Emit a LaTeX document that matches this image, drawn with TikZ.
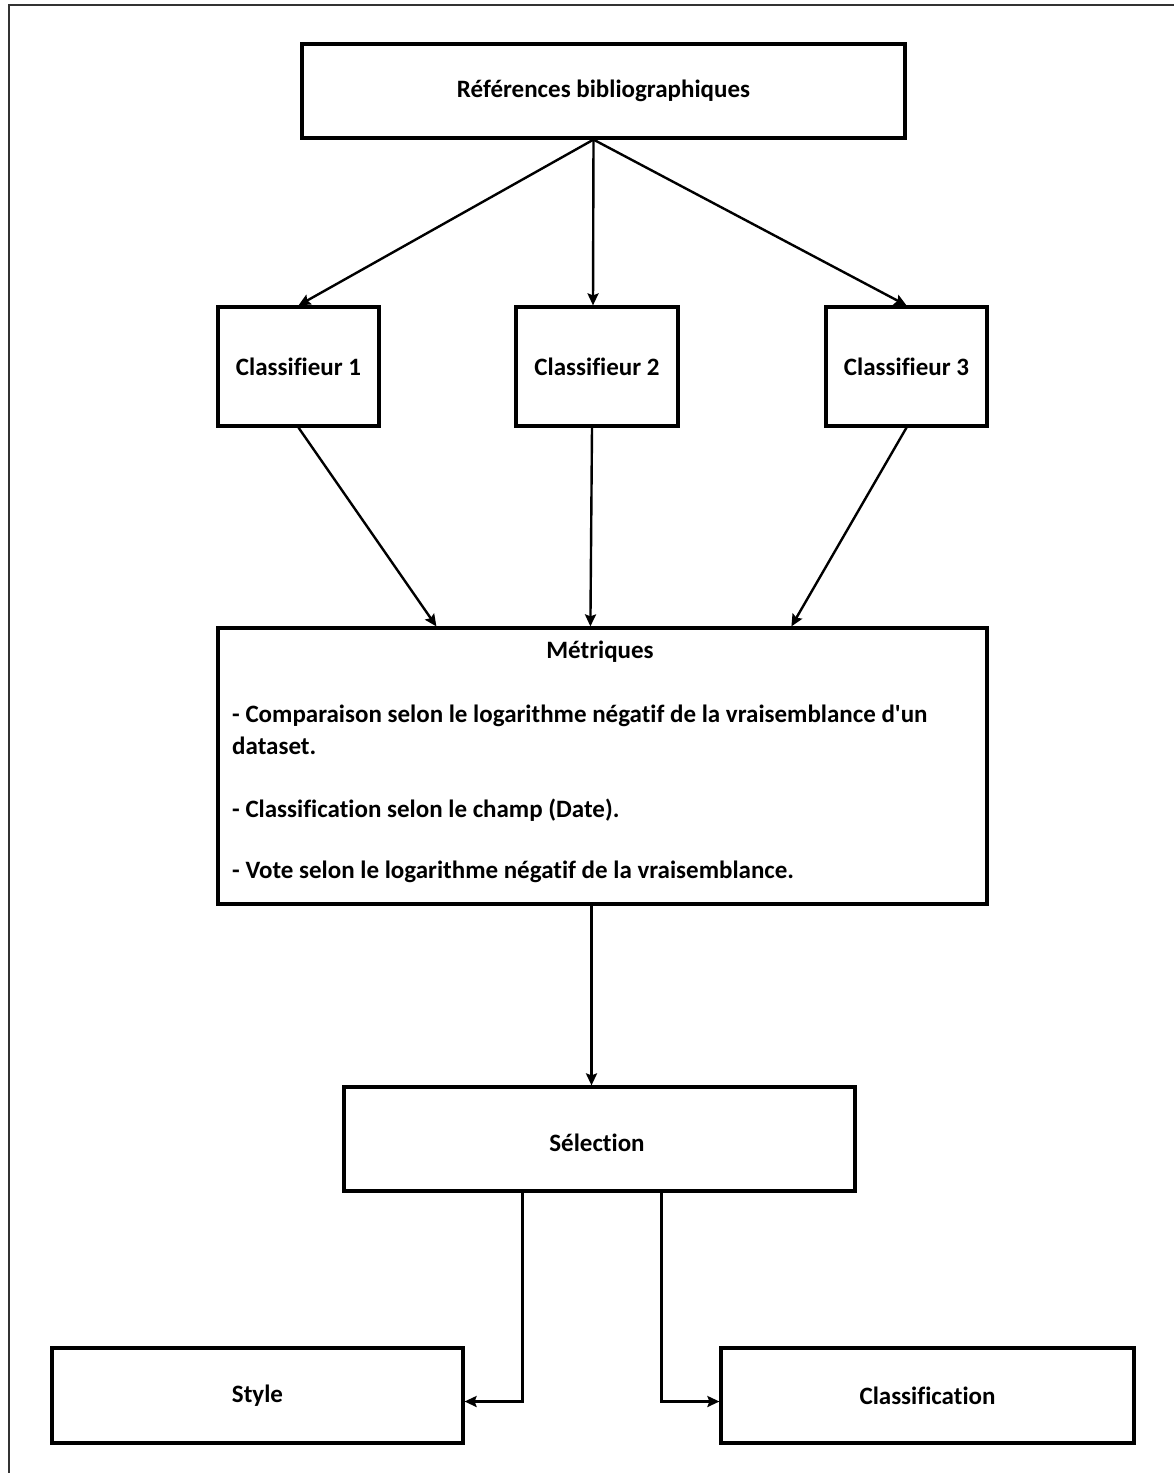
\documentclass[tikz,border=0pt]{standalone}
\usepackage{fontspec}
\setmainfont{Carlito}[Ligatures={TeXOff,NoCommon}]
\usetikzlibrary{arrows.meta,calc}
\begin{document}
\begin{tikzpicture}[x=1pt,y=-1pt,
  box/.style={draw,line width=3.2pt,rectangle,inner sep=0pt,font=\bfseries\fontsize{25}{30}\selectfont},
  txt/.style={inner sep=0pt,font=\bfseries\fontsize{25}{30}\selectfont},
  link/.style={line width=2.4pt,-{Stealth[length=12pt,width=11pt,inset=2pt]}},
  frame/.style={line width=1.5pt,draw=black!80}]
  \useasboundingbox (0,0) rectangle (1174,1473);
  % page frame
  \draw[frame] (9,1473) -- (9,5) -- (1174,5);
  % boxes
  \node[box,minimum width=603pt,minimum height=94pt] (ref) at (603.5,91) {Références bibliographiques};
  \node[box,minimum width=161pt,minimum height=119pt] (c1) at (298.5,366.5) {Classifieur 1};
  \node[box,minimum width=162pt,minimum height=119pt] (c2) at (597,366.5) {Classifieur 2};
  \node[box,minimum width=161pt,minimum height=119pt] (c3) at (906.5,366.5) {Classifieur 3};
  \node[box,minimum width=769pt,minimum height=276pt] (met) at (602.5,766) {};
  \node[txt] (mtitle) at (600,652) {Métriques};
  \node[txt,anchor=west] (m1) at (232,716) {- Comparaison selon le logarithme négatif de la vraisemblance d'un};
  \node[txt,anchor=west] (m2) at (232,746) {dataset.};
  \node[txt,anchor=west] (m3) at (232,810) {- Classification selon le champ (Date).};
  \node[txt,anchor=west] (m4) at (232,872) {- Vote selon le logarithme négatif de la vraisemblance.};
  \node[box,minimum width=511pt,minimum height=104pt] (sel) at (599.5,1139) {};
  \node[txt] (seltxt) at (597,1143) {Sélection};
  \node[box,minimum width=411pt,minimum height=95pt] (sty) at (257.5,1395.5) {Style};
  \node[box,minimum width=413pt,minimum height=95pt] (cla) at (927.5,1395.5) {Classification};
  % connectors
  \coordinate (rs) at ($(ref.south)+(-10,0)$);
  \draw[link] (rs) -- (c1.north);
  \draw[link] (rs) -- ($(c2.north)+(-4,0)$);
  \draw[link] (rs) -- (c3.north);
  \draw[link] (c1.south) -- ($(met.north west)+(220,0)$);
  \draw[link] ($(c2.south)+(-5,0)$) -- ($(met.north west)+(374,0)$);
  \draw[link] (c3.south) -- ($(met.north west)+(575,0)$);
  \draw[link] ($(met.south)+(-11,0)$) -- ($(sel.north)+(-8,0)$);
  \draw[link] ($(sel.south west)+(180,0)$) |- ($(sty.east)+(0,6)$);
  \draw[link] ($(sel.south west)+(319,0)$) |- ($(cla.west)+(0,6)$);
\end{tikzpicture}
\end{document}
